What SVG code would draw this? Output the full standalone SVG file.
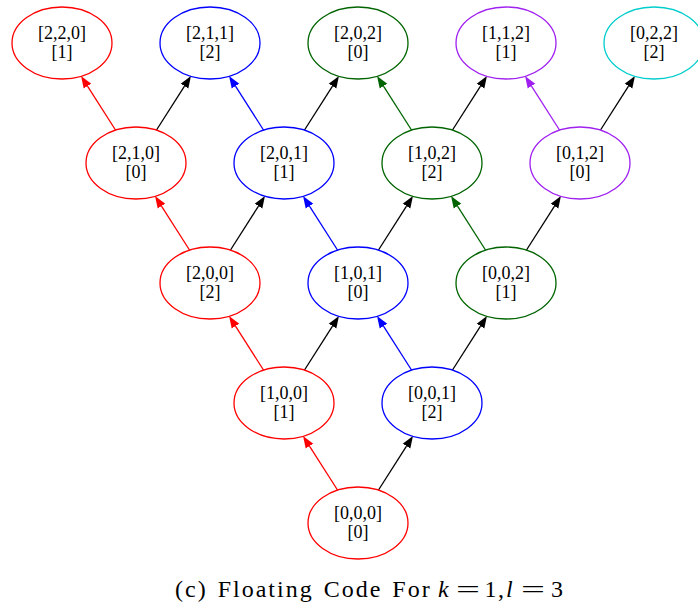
<svg xmlns="http://www.w3.org/2000/svg" width="698" height="606" viewBox="0 0 698 606">
  <style>
    .node ellipse { fill: #ffffff; stroke-width: 1.3; }
    .node text { font-family: "Liberation Serif", "Times New Roman", serif; font-size: 18px; text-anchor: middle; fill: #000000; }
    .red ellipse { stroke: #ff0000; }
    .blue ellipse { stroke: #0000ff; }
    .green ellipse { stroke: #006400; }
    .purple ellipse { stroke: #a020f0; }
    .cyan ellipse { stroke: #00cdcd; }
    .edges line { stroke-width: 1.3; fill: none; }
    .e-red { stroke: #ff0000; marker-end: url(#ah-red); }
    .e-blue { stroke: #0000ff; marker-end: url(#ah-blue); }
    .e-green { stroke: #006400; marker-end: url(#ah-green); }
    .e-purple { stroke: #a020f0; marker-end: url(#ah-purple); }
    .e-black { stroke: #000000; marker-end: url(#ah-black); }
    .caption { font-family: "Liberation Serif", "Times New Roman", serif; font-size: 24px; fill: #000000; }
  </style>
  <defs>
    <marker id="ah-red" viewBox="0 -5 12 10" refX="0" refY="0" markerWidth="12" markerHeight="10" markerUnits="userSpaceOnUse" orient="auto">
      <path d="M0,-4.5 L12,0 L0,4.5 z" fill="#ff0000"/>
    </marker>
    <marker id="ah-blue" viewBox="0 -5 12 10" refX="0" refY="0" markerWidth="12" markerHeight="10" markerUnits="userSpaceOnUse" orient="auto">
      <path d="M0,-4.5 L12,0 L0,4.5 z" fill="#0000ff"/>
    </marker>
    <marker id="ah-green" viewBox="0 -5 12 10" refX="0" refY="0" markerWidth="12" markerHeight="10" markerUnits="userSpaceOnUse" orient="auto">
      <path d="M0,-4.5 L12,0 L0,4.5 z" fill="#006400"/>
    </marker>
    <marker id="ah-purple" viewBox="0 -5 12 10" refX="0" refY="0" markerWidth="12" markerHeight="10" markerUnits="userSpaceOnUse" orient="auto">
      <path d="M0,-4.5 L12,0 L0,4.5 z" fill="#a020f0"/>
    </marker>
    <marker id="ah-black" viewBox="0 -5 12 10" refX="0" refY="0" markerWidth="12" markerHeight="10" markerUnits="userSpaceOnUse" orient="auto">
      <path d="M0,-4.5 L12,0 L0,4.5 z" fill="#000000"/>
    </marker>
  </defs>

  <!-- connectors: up-left edge in the source node colour, up-right edge black -->
  <g id="edges" class="edges">
    <line class="e-red" x1="115.5" y1="130" x2="87.5" y2="86.1"/>
    <line class="e-black" x1="156.5" y1="130" x2="184.5" y2="86.1"/>
    <line class="e-blue" x1="263.5" y1="130" x2="235.5" y2="86.1"/>
    <line class="e-black" x1="304.5" y1="130" x2="332.5" y2="86.1"/>
    <line class="e-green" x1="411.5" y1="130" x2="383.5" y2="86.1"/>
    <line class="e-black" x1="452.5" y1="130" x2="480.5" y2="86.1"/>
    <line class="e-purple" x1="559.5" y1="130" x2="531.5" y2="86.1"/>
    <line class="e-black" x1="600.5" y1="130" x2="628.5" y2="86.1"/>

    <line class="e-red" x1="189.5" y1="250" x2="161.5" y2="206.1"/>
    <line class="e-black" x1="230.5" y1="250" x2="258.5" y2="206.1"/>
    <line class="e-blue" x1="337.5" y1="250" x2="309.5" y2="206.1"/>
    <line class="e-black" x1="378.5" y1="250" x2="406.5" y2="206.1"/>
    <line class="e-green" x1="485.5" y1="250" x2="457.5" y2="206.1"/>
    <line class="e-black" x1="526.5" y1="250" x2="554.5" y2="206.1"/>

    <line class="e-red" x1="263.5" y1="370" x2="235.5" y2="326.1"/>
    <line class="e-black" x1="304.5" y1="370" x2="332.5" y2="326.1"/>
    <line class="e-blue" x1="411.5" y1="370" x2="383.5" y2="326.1"/>
    <line class="e-black" x1="452.5" y1="370" x2="480.5" y2="326.1"/>

    <line class="e-red" x1="337.5" y1="490" x2="309.5" y2="446.1"/>
    <line class="e-black" x1="378.5" y1="490" x2="406.5" y2="446.1"/>
  </g>

  <!-- top row -->
  <g id="n220" class="node red">
    <ellipse cx="62" cy="43" rx="50" ry="36"/>
    <text x="62" y="39">[2,2,0]</text>
    <text x="62" y="58">[1]</text>
  </g>
  <g id="n211" class="node blue">
    <ellipse cx="210" cy="43" rx="50" ry="36"/>
    <text x="210" y="39">[2,1,1]</text>
    <text x="210" y="58">[2]</text>
  </g>
  <g id="n202" class="node green">
    <ellipse cx="358" cy="43" rx="50" ry="36"/>
    <text x="358" y="39">[2,0,2]</text>
    <text x="358" y="58">[0]</text>
  </g>
  <g id="n112" class="node purple">
    <ellipse cx="506" cy="43" rx="50" ry="36"/>
    <text x="506" y="39">[1,1,2]</text>
    <text x="506" y="58">[1]</text>
  </g>
  <g id="n022" class="node cyan">
    <ellipse cx="654" cy="43" rx="50" ry="36"/>
    <text x="654" y="39">[0,2,2]</text>
    <text x="654" y="58">[2]</text>
  </g>

  <!-- second row -->
  <g id="n210" class="node red">
    <ellipse cx="136" cy="163" rx="50" ry="36"/>
    <text x="136" y="159">[2,1,0]</text>
    <text x="136" y="178">[0]</text>
  </g>
  <g id="n201" class="node blue">
    <ellipse cx="284" cy="163" rx="50" ry="36"/>
    <text x="284" y="159">[2,0,1]</text>
    <text x="284" y="178">[1]</text>
  </g>
  <g id="n102" class="node green">
    <ellipse cx="432" cy="163" rx="50" ry="36"/>
    <text x="432" y="159">[1,0,2]</text>
    <text x="432" y="178">[2]</text>
  </g>
  <g id="n012" class="node purple">
    <ellipse cx="580" cy="163" rx="50" ry="36"/>
    <text x="580" y="159">[0,1,2]</text>
    <text x="580" y="178">[0]</text>
  </g>

  <!-- third row -->
  <g id="n200" class="node red">
    <ellipse cx="210" cy="283" rx="50" ry="36"/>
    <text x="210" y="279">[2,0,0]</text>
    <text x="210" y="298">[2]</text>
  </g>
  <g id="n101" class="node blue">
    <ellipse cx="358" cy="283" rx="50" ry="36"/>
    <text x="358" y="279">[1,0,1]</text>
    <text x="358" y="298">[0]</text>
  </g>
  <g id="n002" class="node green">
    <ellipse cx="506" cy="283" rx="50" ry="36"/>
    <text x="506" y="279">[0,0,2]</text>
    <text x="506" y="298">[1]</text>
  </g>

  <!-- fourth row -->
  <g id="n100" class="node red">
    <ellipse cx="284" cy="403" rx="50" ry="36"/>
    <text x="284" y="399">[1,0,0]</text>
    <text x="284" y="418">[1]</text>
  </g>
  <g id="n001" class="node blue">
    <ellipse cx="432" cy="403" rx="50" ry="36"/>
    <text x="432" y="399">[0,0,1]</text>
    <text x="432" y="418">[2]</text>
  </g>

  <!-- root -->
  <g id="n000" class="node red">
    <ellipse cx="358" cy="523" rx="50" ry="36"/>
    <text x="358" y="519">[0,0,0]</text>
    <text x="358" y="538">[0]</text>
  </g>

  <!-- caption -->
  <g id="caption" class="caption">
    <text x="175" y="597" letter-spacing="2" word-spacing="2">(c) Floating Code For</text>
    <text x="438" y="597" font-style="italic">k</text>
    <text x="456" y="597" textLength="24" lengthAdjust="spacingAndGlyphs">=</text>
    <text x="484.5" y="597">1</text>
    <text x="498" y="597">,</text>
    <text x="506" y="597" font-style="italic">l</text>
    <text x="521" y="597" textLength="24" lengthAdjust="spacingAndGlyphs">=</text>
    <text x="551" y="597">3</text>
  </g>
</svg>
